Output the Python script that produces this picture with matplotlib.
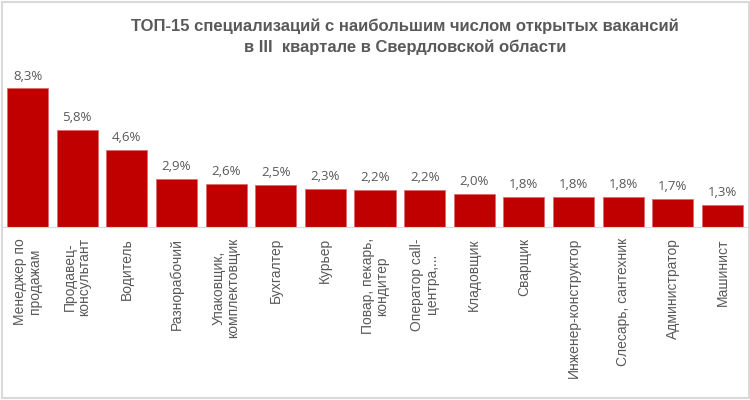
import matplotlib
matplotlib.use("Agg")
import matplotlib.pyplot as plt
from matplotlib.patches import Rectangle

categories = [
    "Менеджер по\nпродажам",
    "Продавец-\nконсультант",
    "Водитель",
    "Разнорабочий",
    "Упаковщик,\nкомплектовщик",
    "Бухгалтер",
    "Курьер",
    "Повар, пекарь,\nкондитер",
    "Оператор call-\nцентра,...",
    "Кладовщик",
    "Сварщик",
    "Инженер-конструктор",
    "Слесарь, сантехник",
    "Администратор",
    "Машинист",
]
values = [8.3, 5.8, 4.6, 2.9, 2.6, 2.5, 2.3, 2.2, 2.2, 2.0, 1.8, 1.8, 1.8, 1.7, 1.3]

title = ("ТОП-15 специализаций с наибольшим числом открытых вакансий\n"
         "в III  квартале в Свердловской области")

text_color = "#595959"
bar_color = "#C00000"

fig = plt.figure(figsize=(7.5, 4), dpi=100)
fig.patch.set_facecolor("white")
fig.patches.append(Rectangle((0.002, 0.004), 0.996, 0.99, transform=fig.transFigure,
                             fill=False, edgecolor="#D9D9D9", linewidth=1.5))

ax = fig.add_axes([0.0036, 0.4325, 0.9928, 0.4175])
x = range(len(categories))
ax.bar(x, values, width=0.826, color=bar_color, edgecolor="#E06666", linewidth=0.5)

for xi, v in zip(x, values):
    ax.text(xi, v + 0.35, f"{v:.1f}%".replace(".", ","), ha="center", va="bottom",
            fontsize=9.5, color=text_color, family=["Open Sans", "DejaVu Sans"])

ax.set_xlim(-0.5, len(categories) - 0.5)
ax.set_ylim(0, 10)
ax.set_xticks(list(x))
ax.set_xticklabels(categories, rotation=90, va="top", ha="center", fontsize=10,
                   color=text_color, family=["Liberation Sans", "DejaVu Sans"],
                   linespacing=1.05)
ax.tick_params(axis="x", length=0, pad=8)
ax.set_yticks([])
for side in ["top", "left", "right"]:
    ax.spines[side].set_visible(False)
ax.spines["bottom"].set_color("#D9D9D9")

fig.text(0.54, 0.955, title, ha="center", va="top", fontsize=12, fontweight="bold",
         color=text_color, family=["Liberation Sans Narrow", "Liberation Sans", "DejaVu Sans"],
         linespacing=1.45)

fig.savefig("out.png", dpi=100)
